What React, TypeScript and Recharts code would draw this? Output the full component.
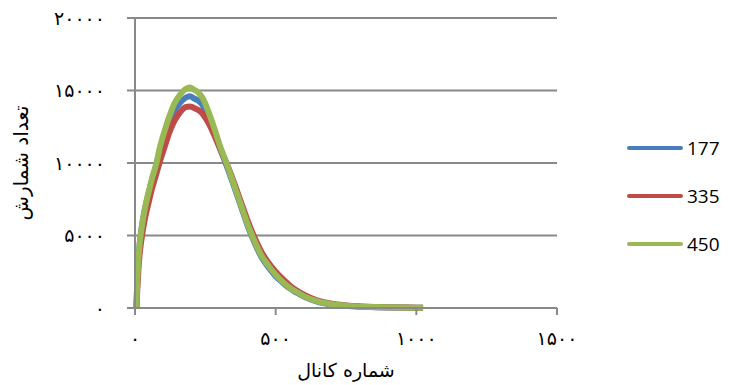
import { LineChart, Line, CartesianGrid, XAxis, YAxis } from 'recharts';

const channels = [5, 8, 12, 16, 20, 25, 30, 40, 50, 60, 75, 90, 105, 120, 140, 160, 180, 195, 210, 225, 240, 260, 280, 300, 325, 350, 375, 400, 425, 450, 475, 500, 525, 550, 575, 600, 650, 700, 750, 800, 850, 900, 950, 1000, 1024];

const counts177 = [0, 1800, 3300, 4300, 5000, 5700, 6300, 7250, 8050, 8800, 9800, 10900, 11850, 12700, 13600, 14150, 14500, 14600, 14450, 14300, 14000, 13200, 12200, 11100, 9850, 8500, 7100, 5700, 4500, 3500, 2800, 2200, 1750, 1350, 1050, 790, 430, 250, 150, 95, 60, 40, 28, 18, 14];
const counts335 = [0, 1200, 2600, 3600, 4300, 5000, 5600, 6600, 7400, 8200, 9200, 10200, 11100, 12000, 12900, 13500, 13850, 13900, 13800, 13650, 13400, 12800, 12000, 11100, 10000, 8750, 7400, 6050, 4850, 3850, 3100, 2500, 2000, 1550, 1200, 920, 510, 290, 180, 110, 70, 50, 35, 22, 16];
const counts450 = [0, 1800, 3300, 4300, 5000, 5700, 6300, 7300, 8100, 8900, 9900, 11200, 12200, 13100, 14100, 14700, 15100, 15200, 15050, 14850, 14500, 13600, 12500, 11300, 10000, 8600, 7200, 5800, 4600, 3600, 2900, 2300, 1800, 1400, 1100, 820, 450, 260, 160, 100, 65, 45, 30, 20, 15];

const xTicks = [0, 500, 1000, 1500];
const yTicks = [0, 5000, 10000, 15000, 20000];

const series = [
  { key: 's177', name: '177', color: '#4a7ebb' },
  { key: 's335', name: '335', color: '#be4b48' },
  { key: 's450', name: '450', color: '#98b954' },
];

const data = channels.map((ch, i) => ({
  ch,
  s177: counts177[i],
  s335: counts335[i],
  s450: counts450[i],
}));

const toPersian = (v: number) => String(v).replace(/\d/g, (d) => '۰۱۲۳۴۵۶۷۸۹'[Number(d)]);

const tickStyle = { fill: '#000', fontSize: 19, fontFamily: 'DejaVu Sans', letterSpacing: 3.5 };
const gray = '#898989';

function LegendBox() {
  return (
    <div style={{ position: 'absolute', left: 627, top: 124, width: 100 }}>
      {series.map((s) => (
        <div key={s.key} style={{ display: 'flex', alignItems: 'center', height: 48 }}>
          <div style={{ width: 56, height: 4, borderRadius: 2, background: s.color, marginRight: 4 }} />
          <span style={{ fontFamily: 'Open Sans', fontSize: 19, color: '#000' }}>{s.name}</span>
        </div>
      ))}
    </div>
  );
}

export default function App() {
  return (
    <div style={{ position: 'absolute', left: 0, top: 0, width: 729, height: 385, background: '#fff' }}>
      <LineChart width={729} height={385} data={data} margin={{ top: 18, right: 172, bottom: 0, left: 0 }}>
        <CartesianGrid horizontal vertical={false} stroke={gray} strokeWidth={2} />
        <XAxis
          dataKey="ch"
          type="number"
          domain={[0, 1500]}
          ticks={xTicks}
          tickFormatter={toPersian}
          height={77}
          stroke={gray}
          strokeWidth={2}
          tickSize={7}
          tickMargin={17}
          tick={tickStyle}
          label={{ value: 'شماره کانال', position: 'insideBottom', offset: 8, style: { fill: '#000', fontSize: 19, fontFamily: 'DejaVu Sans' } }}
        />
        <YAxis
          type="number"
          domain={[0, 20000]}
          ticks={yTicks}
          tickFormatter={toPersian}
          width={135}
          stroke={gray}
          strokeWidth={2}
          tickSize={8}
          tickMargin={22}
          tick={tickStyle}
          label={{ value: 'تعداد شمارش', angle: -90, position: 'insideLeft', offset: 21, style: { fill: '#000', fontSize: 20, fontFamily: 'DejaVu Sans', textAnchor: 'middle' } }}
        />
        {series.map((s) => (
          <Line
            key={s.key}
            type="monotone"
            dataKey={s.key}
            name={s.name}
            stroke={s.color}
            strokeWidth={6}
            dot={false}
            isAnimationActive={false}
          />
        ))}
      </LineChart>
      <LegendBox />
    </div>
  );
}
